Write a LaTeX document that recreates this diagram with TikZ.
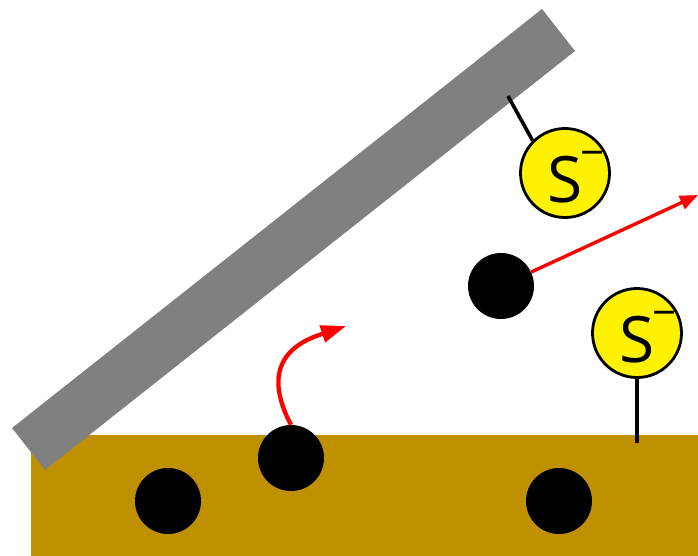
\documentclass[tikz,border=0pt]{standalone}
\usepackage{fontspec}
\setmainfont{Open Sans}
\usetikzlibrary{arrows.meta}
\definecolor{soil}{HTML}{BF9000}
\definecolor{bargray}{HTML}{808080}
\begin{document}
\begin{tikzpicture}[x=1pt,y=-1pt,
  ion/.style={circle,draw=black,line width=2.8pt,fill=yellow,minimum size=89pt,inner sep=0pt},
  dot/.style={circle,fill=black,minimum size=66pt,inner sep=0pt},
  tether/.style={line width=3.6pt,black},
  stxt/.style={anchor=base,font=\fontsize{64}{64}\selectfont,inner sep=0pt},
  movecurve/.style={red,line width=4.3pt,-{Triangle[length=25pt,width=17pt]}},
  movestraight/.style={red,line width=3.4pt,-{Triangle[length=18pt,width=14pt]}},
]
\useasboundingbox (0,0) rectangle (698,556);
% soil
\fill[soil] (31,435) rectangle (698,556);
% tilted bar
\fill[bargray] (12,428) -- (542,9) -- (575,51) -- (45,470) -- cycle;
% particles
\node[dot] (d1) at (291,458) {};
\node[dot] (d2) at (168,501) {};
\node[dot] (d3) at (559,501) {};
\node[dot] (d4) at (501,286) {};
% ions with tethers
\coordinate (a1) at (508,96);
\coordinate (a2) at (637,443);
\node[ion] (s1) at (565,173) {};
\node[ion] (s2) at (637,333) {};
\draw[tether] (a1) -- (s1.135);
\draw[tether] (a2) -- (s2.south);
\node[stxt] (t1) at (565.5,202) {S\rlap{\kern-3pt\raisebox{35pt}{\fontsize{42}{42}\selectfont −}}};
\node[stxt] (t2) at (637.5,362) {S\rlap{\kern-3pt\raisebox{35pt}{\fontsize{42}{42}\selectfont −}}};
% arrows
\coordinate (e1) at (322,334);
\coordinate (tip1) at (346,326);
\coordinate (tip2) at (698,195);
\draw[movecurve] (d1.north) .. controls (270,385) and (272,350) .. (e1) -- (tip1);
\draw[movestraight] (d4) -- (tip2);
\end{tikzpicture}
\end{document}
